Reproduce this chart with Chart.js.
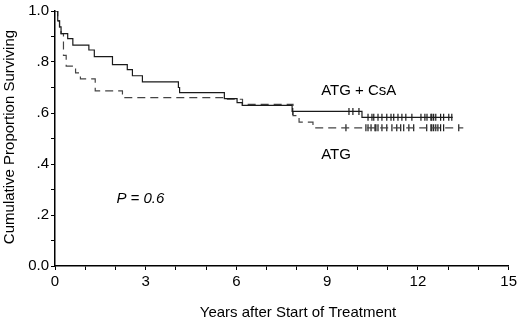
<!DOCTYPE html>
<html><head><meta charset="utf-8">
<script src="https://cdn.jsdelivr.net/npm/chart.js@4/dist/chart.umd.min.js"></script>
<style>html,body{margin:0;padding:0;background:#fff}#wrap{width:520px;height:323px}</style>
</head><body><div id="wrap"><canvas id="c" width="520" height="323"></canvas></div>
<script>
// ATG + CsA (solid) Kaplan-Meier steps
const csaTimes = [0, 0.09, 0.15, 0.2, 0.42, 0.59, 1.12, 1.3, 1.9, 2.39, 2.56, 2.89, 4.08, 4.12, 5.6, 6.02, 6.19, 7.84, 10.15, 13.15];
const csaValues = [1, 0.961, 0.938, 0.911, 0.892, 0.866, 0.847, 0.821, 0.79, 0.77, 0.746, 0.722, 0.70, 0.68, 0.656, 0.641, 0.63, 0.606, 0.583, 0.583];
// ATG (dashed)
const atgTimes = [0, 0.09, 0.15, 0.2, 0.28, 0.37, 0.68, 0.84, 1.33, 2.23, 5.6, 6.2, 7.87, 8.07, 8.53, 13.5];
const atgValues = [1, 0.961, 0.938, 0.911, 0.826, 0.784, 0.757, 0.734, 0.687, 0.66, 0.654, 0.634, 0.59, 0.564, 0.542, 0.542];
// censored observations
const csaCensorTimes = [7.86, 9.72, 9.85, 10.05, 10.35, 10.48, 10.54, 10.68, 10.81, 10.97, 11.11, 11.2, 11.34, 11.47, 11.6, 11.8, 12.1, 12.23, 12.3, 12.43, 12.46, 12.52, 12.59, 12.75, 12.85, 13.02, 13.12];
const csaCensorValues = [0.606, 0.606, 0.606, 0.606, 0.583, 0.583, 0.583, 0.583, 0.583, 0.583, 0.583, 0.583, 0.583, 0.583, 0.583, 0.583, 0.583, 0.583, 0.583, 0.583, 0.583, 0.583, 0.583, 0.583, 0.583, 0.583, 0.583];
const atgCensorTimes = [9.62, 10.28, 10.35, 10.45, 10.58, 10.61, 10.68, 10.81, 10.97, 11.14, 11.3, 11.43, 11.53, 11.7, 11.86, 12.29, 12.43, 12.46, 12.52, 12.59, 12.66, 12.75, 12.85, 13.35];
const atgCensorValues = [0.542, 0.542, 0.542, 0.542, 0.542, 0.542, 0.542, 0.542, 0.542, 0.542, 0.542, 0.542, 0.542, 0.542, 0.542, 0.542, 0.542, 0.542, 0.542, 0.542, 0.542, 0.542, 0.542, 0.542];
const xTickLabels = ['0', '3', '6', '9', '12', '15'];
const yTickLabels = {0: '0.0', 2: '.2', 4: '.4', 6: '.6', 8: '.8', 10: '1.0'};
const notes = [
  {text: 'ATG + CsA', x: 8.8, y: 0.687, italic: false},
  {text: 'ATG', x: 8.8, y: 0.436, italic: false},
  {text: 'P = 0.6', x: 2.03, y: 0.263, italic: true}
];

const pts = (t, v) => t.map((x, i) => ({x: x, y: v[i]}));
const FONT = "'Liberation Sans', Arial, sans-serif";
const FS = 15;

const textPlugin = {
  id: 'texts',
  afterDraw(chart) {
    const ctx = chart.ctx, xs = chart.scales.x, ys = chart.scales.y;
    ctx.save();
    ctx.fillStyle = '#000';
    ctx.textBaseline = 'middle';
    ctx.textAlign = 'left';
    notes.forEach(n => {
      ctx.font = (n.italic ? 'italic ' : '') + FS + 'px ' + FONT;
      ctx.fillText(n.text, xs.getPixelForValue(n.x), ys.getPixelForValue(n.y));
    });
    ctx.font = FS + 'px ' + FONT;
    ctx.textAlign = 'center';
    ctx.fillText('Years after Start of Treatment', 298, 313);
    ctx.translate(10, 137);
    ctx.rotate(-Math.PI / 2);
    ctx.fillText('Cumulative Proportion Surviving', 0, 0);
    ctx.restore();
  }
};

new Chart(document.getElementById('c'), {
  type: 'scatter',
  data: {
    datasets: [
      {label: 'ATG + CsA', data: pts(csaTimes, csaValues), showLine: true, stepped: 'before',
       borderColor: '#1a1a1a', borderWidth: 1.2, pointRadius: 0, fill: false},
      {label: 'ATG', data: pts(atgTimes, atgValues), showLine: true, stepped: 'before',
       borderColor: '#444', borderWidth: 1.2, borderDash: [8, 5], pointRadius: 0, fill: false},
      {label: 'c1', data: pts(csaCensorTimes, csaCensorValues), showLine: false,
       pointStyle: 'line', rotation: 90, pointRadius: 3.5, borderColor: '#1a1a1a', borderWidth: 1.2},
      {label: 'c2', data: pts(atgCensorTimes, atgCensorValues), showLine: false,
       pointStyle: 'line', rotation: 90, pointRadius: 3.5, borderColor: '#1a1a1a', borderWidth: 1.2}
    ]
  },
  options: {
    responsive: false,
    animation: false,
    layout: {padding: {left: 0, right: 10, top: 7, bottom: 0}},
    plugins: {legend: {display: false}, tooltip: {enabled: false}},
    scales: {
      x: {
        type: 'linear', min: 0, max: 15,
        afterFit(s) { s.height = 57; },
        border: {display: true, color: '#000', width: 1.5},
        grid: {drawOnChartArea: false, drawTicks: true, tickLength: 4, color: '#000', tickWidth: 1},
        ticks: {stepSize: 1, autoSkip: false, maxRotation: 0, padding: 3, color: '#000',
                font: {family: FONT, size: FS},
                callback: v => (v % 3 === 0 ? xTickLabels[v / 3] : '')}
      },
      y: {
        type: 'linear', min: 0, max: 1,
        afterFit(s) { s.width = 55; },
        border: {display: true, color: '#000', width: 1.5},
        grid: {drawOnChartArea: false, drawTicks: true, tickLength: 4, color: '#000', tickWidth: 1},
        ticks: {stepSize: 0.1, autoSkip: false, padding: 2, color: '#000',
                font: {family: FONT, size: FS},
                callback: v => { const k = Math.round(v * 10); return yTickLabels[k] !== undefined ? yTickLabels[k] : ''; }}
      }
    }
  },
  plugins: [textPlugin]
});
</script></body></html>
